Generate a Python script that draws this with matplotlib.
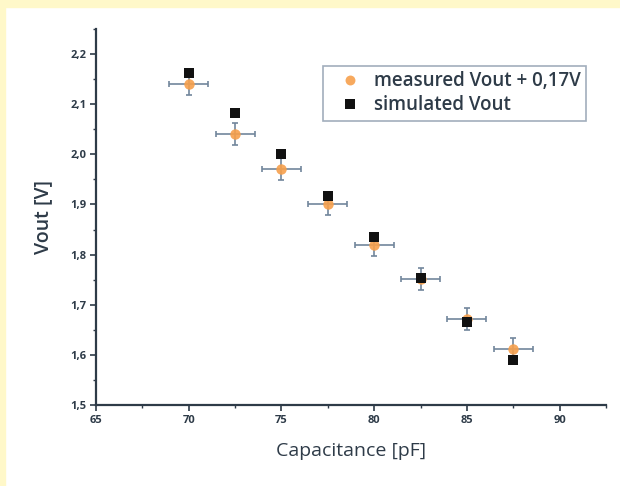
import matplotlib

matplotlib.use("Agg")
import matplotlib.pyplot as plt
import matplotlib.ticker as mticker
from matplotlib.patches import Rectangle

# capacitance [pF]
cap = [70, 72.5, 75, 77.5, 80, 82.5, 85, 87.5]
# measured Vout + 0.17 V
meas = [2.141, 2.040, 1.970, 1.900, 1.820, 1.751, 1.671, 1.611]
meas_xerr = [1.05] * 8
meas_yerr = [0.022] * 8
# simulated Vout
sim = [2.163, 2.082, 2.001, 1.917, 1.835, 1.753, 1.665, 1.590]

x_ticks = [65, 70, 75, 80, 85, 90]
y_ticks = [1.5, 1.6, 1.7, 1.8, 1.9, 2.0, 2.1, 2.2]

INK = "#2e3b48"
ORANGE = "#f7a04c"
ERR = "#72869c"
FONT = ["Open Sans", "DejaVu Sans"]

plt.rcParams["font.family"] = FONT

fig = plt.figure(figsize=(6.2, 4.86), dpi=100, facecolor="white")
# yellow page border on the left and top
fig.patches.append(Rectangle((0, 0), 5 / 620, 1, transform=fig.transFigure,
                             color="#fff8c9", zorder=0))
fig.patches.append(Rectangle((0, 1 - 7 / 486), 1, 7 / 486, transform=fig.transFigure,
                             color="#fff8c9", zorder=0))

ax = fig.add_axes([96 / 620, 1 - 405 / 486, (606 - 96) / 620, (405 - 29) / 486])
ax.set_facecolor("none")

ax.errorbar(cap, meas, xerr=meas_xerr, yerr=meas_yerr, fmt="none", ecolor=ERR,
            elinewidth=1.2, capsize=2.5, capthick=1.2, zorder=2)
ax.plot(cap, meas, "o", color=ORANGE, markersize=7.5, markeredgewidth=0, alpha=0.9,
        zorder=3, label="measured Vout + 0,17V")
ax.plot(cap, sim, "s", color="#111111", markersize=7.5, markeredgewidth=0, zorder=4,
        label="simulated Vout")

ax.set_xlim(65, 92.5)
ax.set_ylim(1.5, 2.25)
ax.xaxis.set_major_locator(mticker.FixedLocator(x_ticks))
ax.xaxis.set_minor_locator(mticker.MultipleLocator(2.5))
ax.yaxis.set_major_locator(mticker.FixedLocator(y_ticks))
ax.yaxis.set_minor_locator(mticker.MultipleLocator(0.05))
ax.yaxis.set_major_formatter(mticker.FuncFormatter(lambda v, p: f"{v:.1f}".replace(".", ",")))

for side in ("top", "right"):
    ax.spines[side].set_visible(False)
for side in ("left", "bottom"):
    ax.spines[side].set_color(INK)
    ax.spines[side].set_linewidth(1.6)

ax.tick_params(which="major", direction="out", length=4, width=1.2, color=INK,
               labelsize=8, labelcolor=INK, pad=3)
ax.tick_params(which="minor", direction="out", length=2.5, width=1.0, color=INK)
for lab in ax.get_xticklabels() + ax.get_yticklabels():
    lab.set_fontweight("bold")

ax.set_xlabel("Capacitance [pF]", fontsize=14, color=INK, labelpad=12)
ax.set_ylabel("Vout [V]", fontsize=14, color=INK, fontweight="semibold", labelpad=12)

leg = ax.legend(loc="upper right", bbox_to_anchor=(0.961, 0.902), fontsize=13.5,
                frameon=True, fancybox=False, handlelength=2.3, handletextpad=0.1,
                borderpad=0.3, labelspacing=0.2, borderaxespad=0, markerscale=0.95)
leg.get_frame().set_edgecolor("#8a9aac")
leg.get_frame().set_linewidth(1.2)
for t in leg.get_texts():
    t.set_color(INK)
    t.set_fontweight("semibold")

fig.savefig("out.png", dpi=100, facecolor="white")
